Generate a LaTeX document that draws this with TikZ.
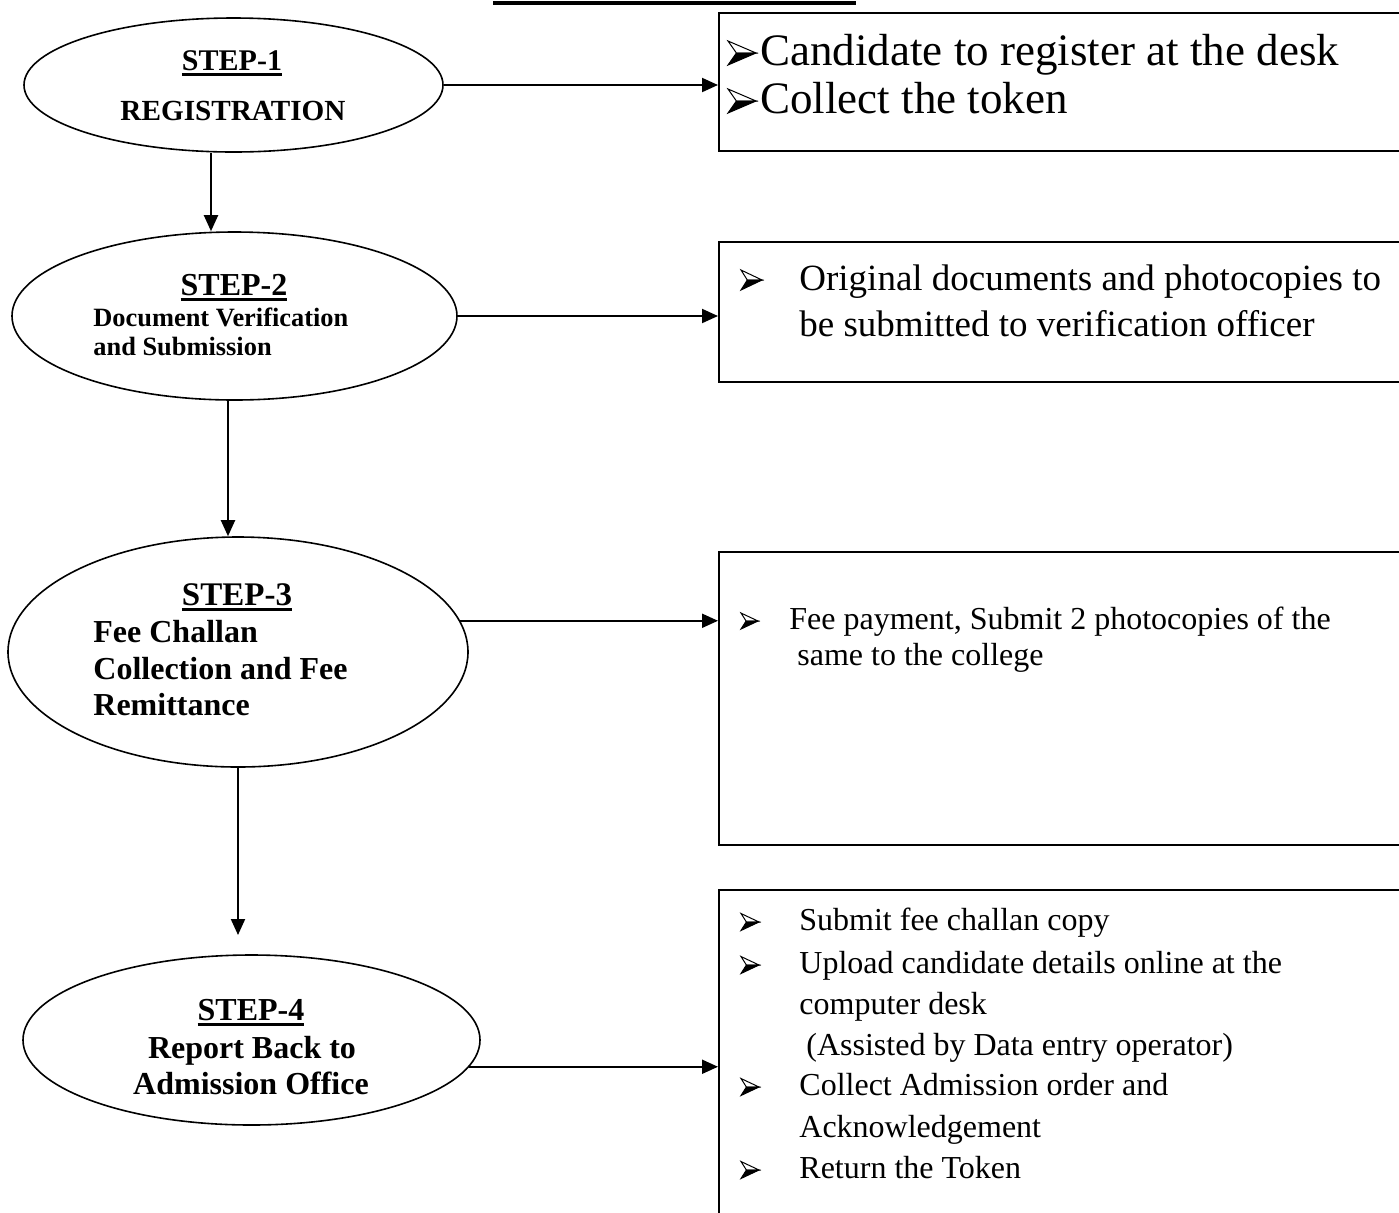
\documentclass[tikz,border=0pt]{standalone}
\usepackage{fontspec}
\setmainfont{Liberation Serif}
\usetikzlibrary{shapes.geometric,arrows.meta,calc}
\newcommand\stepul[1]{\setbox0\hbox{#1}\rlap{\rule[-3pt]{\wd0}{1.4pt}}\box0}
\begin{document}
\begin{tikzpicture}[x=0.5pt,y=-0.5pt,
  oval/.style={draw, ellipse, line width=0.8pt, inner sep=0pt},
  infobox/.style={draw, rectangle, line width=1pt, inner sep=0pt},
  conn/.style={line width=1pt, -{Triangle[length=8pt,width=7pt]}},
  lbl/.style={anchor=base west, inner sep=0pt},
  clbl/.style={anchor=base, inner sep=0pt},
  fA/.style={font=\fontsize{22.5}{26}\selectfont},
  fB/.style={font=\fontsize{18.5}{22}\selectfont},
  fC/.style={font=\fontsize{16}{19}\selectfont},
  pics/arrbul/.style args={#1/#2}{code={
    \filldraw[fill=white, line width=0.5pt, line join=miter] (0,-#2/2) -- (#1,0) -- (0.3*#1,0) -- cycle;
    \filldraw[fill=black, line width=0.5pt, line join=miter] (0,#2/2) -- (#1,0) -- (0.3*#1,0) -- cycle;
  }},
]
\clip (0,0) rectangle (1399,1212);
\fill[white] (0,0) rectangle (1399,1212);
% title underline (title text cut off at the top edge)
\draw[line width=2pt] (493,3) -- (856,3);

% ellipses
\node[oval, minimum width=209.5pt, minimum height=67pt] (ell1) at (233.5,85) {};
\node[oval, minimum width=222.5pt, minimum height=84pt] (ell2) at (234.5,316) {};
\node[oval, minimum width=230pt, minimum height=115pt] (ell3) at (238,652) {};
\node[oval, minimum width=228.5pt, minimum height=85pt] (ell4) at (251.5,1040) {};

% boxes
\node[infobox, minimum width=345.5pt, minimum height=69pt] (box1) at (1064.5,82) {};
\node[infobox, minimum width=345.5pt, minimum height=70pt] (box2) at (1064.5,312) {};
\node[infobox, minimum width=345.5pt, minimum height=146.5pt] (box3) at (1064.5,698.5) {};
\node[infobox, minimum width=345.5pt, minimum height=170pt] (box4) at (1064.5,1060) {};

% ellipse texts
\node[clbl, font=\bfseries\fontsize{15}{18}\selectfont] (t1a) at (232,70) {\stepul{STEP-1}};
\node[clbl, font=\bfseries\fontsize{14.6}{18}\selectfont] (t1b) at (233,120) {REGISTRATION};
\node[clbl, font=\bfseries\fontsize{16}{19}\selectfont] (t2a) at (234,295) {\stepul{STEP-2}};
\node[lbl, font=\bfseries\fontsize{13.2}{16}\selectfont] (t2b) at (93,326) {Document Verification};
\node[lbl, font=\bfseries\fontsize{13.2}{16}\selectfont] (t2c) at (93,355) {and Submission};
\node[clbl, font=\bfseries\fontsize{16.5}{20}\selectfont] (t3a) at (237,605) {\stepul{STEP-3}};
\node[lbl, font=\bfseries\fontsize{16}{19}\selectfont] (t3b) at (93,642) {Fee Challan};
\node[lbl, font=\bfseries\fontsize{16}{19}\selectfont] (t3c) at (93,679) {Collection and Fee};
\node[lbl, font=\bfseries\fontsize{16}{19}\selectfont] (t3d) at (93,715) {Remittance};
\node[clbl, font=\bfseries\fontsize{16}{19}\selectfont] (t4a) at (251,1020) {\stepul{STEP-4}};
\node[clbl, font=\bfseries\fontsize{16}{19}\selectfont] (t4b) at (252,1058) {Report Back to};
\node[clbl, font=\bfseries\fontsize{16}{19}\selectfont] (t4c) at (251,1094) {Admission Office};

% box texts
\node[lbl, fA] (b1a) at (760,65) {Candidate to register at the desk};
\node[lbl, fA] (b1b) at (760,113) {Collect the token};
\node[lbl, fB] (b2a) at (799,290) {Original documents and photocopies to};
\node[lbl, fB] (b2b) at (799,336) {be submitted to verification officer};
\node[lbl, fC] (b3a) at (789,629) {Fee payment, Submit 2 photocopies of the};
\node[lbl, fC] (b3b) at (797,665) {same to the college};
\node[lbl, fC] (b4a) at (799,930) {Submit fee challan copy};
\node[lbl, fC] (b4b) at (799,973) {Upload candidate details online at the};
\node[lbl, fC] (b4c) at (799,1014) {computer desk};
\node[lbl, fC] (b4d) at (806,1055) {(Assisted by Data entry operator)};
\node[lbl, fC] (b4e) at (799,1095) {Collect Admission order and};
\node[lbl, fC] (b4f) at (799,1137) {Acknowledgement};
\node[lbl, fC] (b4g) at (799,1178) {Return the Token};

% bullets
\pic at (728,53) {arrbul={28/24}};
\pic at (728,101) {arrbul={28/24}};
\pic at (741,280) {arrbul={21/20}};
\pic at (741,621) {arrbul={17/16}};
\pic at (741,922) {arrbul={18/17}};
\pic at (741,965) {arrbul={18/17}};
\pic at (741,1087) {arrbul={18/17}};
\pic at (741,1170) {arrbul={18/17}};

% connectors
\coordinate (c34) at (238,935);
\draw[conn] ($(ell1.south)+(-22.5,0)$) -- ($(ell2.north)+(-23.5,0)$);
\draw[conn] ($(ell2.south)+(-6.5,0)$) -- ($(ell3.north)+(-10,0)$);
\draw[conn] (ell3.south) -- (c34);
\draw[conn] (ell1.east) -- (ell1.east -| box1.west);
\draw[conn] (ell2.east) -- (ell2.east -| box2.west);
\draw[conn] (ell3.8) -- (ell3.8 -| box3.west);
\draw[conn] (ell4.-7) -- (ell4.-7 -| box4.west);
\end{tikzpicture}
\end{document}
